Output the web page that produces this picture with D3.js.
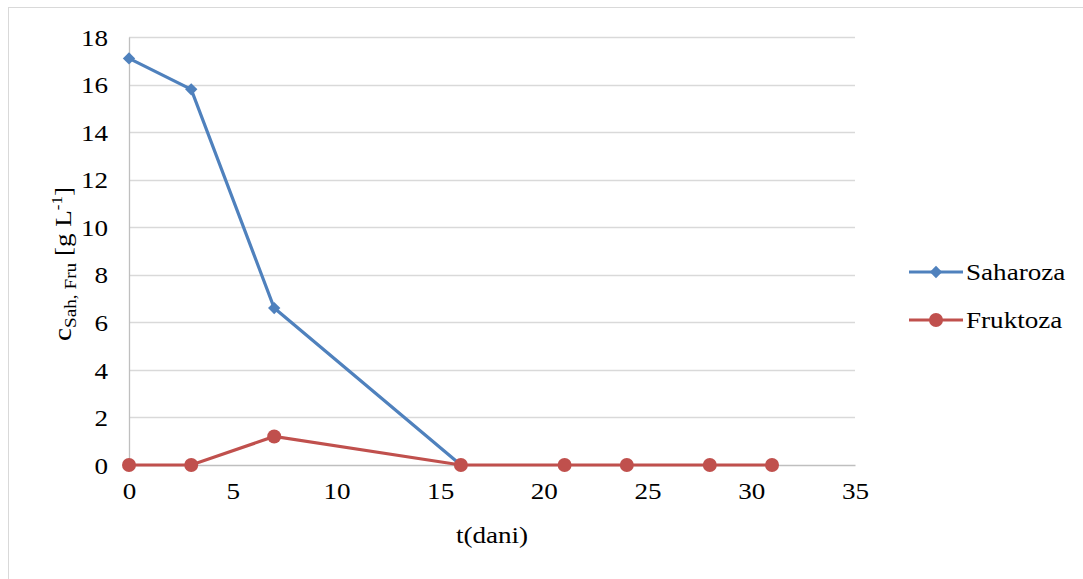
<!DOCTYPE html>
<html><head><meta charset="utf-8">
<script src="https://cdn.jsdelivr.net/npm/d3@7"></script>
<style>body{margin:0;background:#fff}svg{display:block}text{font-family:"Liberation Serif","Times New Roman",serif;fill:#000}</style>
</head><body><svg id="c" width="1083" height="579"></svg>
<script>
const saharozaT = [0, 3, 7, 16];
const saharozaC = [17.1, 15.8, 6.6, 0];
const fruktozaT = [0, 3, 7, 16, 21, 24, 28, 31];
const fruktozaC = [0, 0, 1.2, 0, 0, 0, 0, 0];
const xTicks = [0, 5, 10, 15, 20, 25, 30, 35];
const yTicks = [0, 2, 4, 6, 8, 10, 12, 14, 16, 18];
const seriesNames = ["Saharoza", "Fruktoza"];
const colors = ["#4F81BD", "#C0504D"];

const FS = 24, SX = 1.13;
const FONT = '"Liberation Serif","Times New Roman",serif';

const svg = d3.select("#c");
svg.append("rect").attr("x", 8.5).attr("y", 7.5).attr("width", 1090).attr("height", 600)
  .attr("fill", "none").attr("stroke", "#d9d9d9");

const x = d3.scaleLinear().domain([0, 35]).range([129, 855]);
const y = d3.scaleLinear().domain([0, 18]).range([465, 37]);

// gridlines
svg.append("g").selectAll("line").data(yTicks.filter(d => d > 0)).join("line")
  .attr("x1", x(0)).attr("x2", x(35)).attr("y1", d => Math.round(y(d)) + 0.5).attr("y2", d => Math.round(y(d)) + 0.5)
  .attr("stroke", "#d9d9d9").attr("stroke-width", 1.3);

// axes
const yAxis = svg.append("g").attr("transform", `translate(${x(0)},0)`)
  .call(d3.axisLeft(y).tickValues(yTicks).tickSize(0).tickPadding(21))
  .attr("font-family", FONT).attr("font-size", FS);
yAxis.select(".domain").attr("stroke", "#bfbfbf").attr("stroke-width", 1.3);
yAxis.selectAll(".tick text").attr("x", 0).attr("dy", "0.34em")
  .attr("transform", `translate(-21,0) scale(${SX},1)`);

const xAxis = svg.append("g").attr("transform", `translate(0,${y(0)})`)
  .call(d3.axisBottom(x).tickValues(xTicks).tickSize(0).tickPadding(0))
  .attr("font-family", FONT).attr("font-size", FS);
xAxis.select(".domain").attr("stroke", "#bfbfbf").attr("stroke-width", 1.3);
xAxis.selectAll(".tick text").attr("y", 0).attr("dy", 0)
  .attr("transform", `translate(0,34) scale(${SX},1)`);

function stext(px, py, str, anchor) {
  return svg.append("text").attr("transform", `translate(${px},${py}) scale(${SX},1)`)
    .attr("text-anchor", anchor || "start").style("font-size", FS + "px").text(str);
}

// axis titles
stext(492, 543, "t(dani)", "middle");
const yt = svg.append("text").attr("transform", `translate(71,264) rotate(-90) scale(${SX},1)`)
  .attr("text-anchor", "middle").style("font-size", "26px");
yt.append("tspan").text("c");
yt.append("tspan").attr("dy", 5).style("font-size", "17px").text("Sah, Fru");
yt.append("tspan").attr("dy", -5).style("font-size", FS + "px").text(" [g L");
yt.append("tspan").attr("dy", -9).style("font-size", "15px").text("-1");
yt.append("tspan").attr("dy", 9).style("font-size", FS + "px").text("]");

const line = d3.line().x(d => x(d[0])).y(d => y(d[1]));
const sah = saharozaT.map((t, i) => [t, saharozaC[i]]);
const fru = fruktozaT.map((t, i) => [t, fruktozaC[i]]);

const diamond = d3.symbol().type(d3.symbolSquare).size(76);

svg.append("path").datum(sah).attr("d", line).attr("fill", "none").attr("stroke", colors[0]).attr("stroke-width", 3.2);
svg.append("g").selectAll("path").data(sah).join("path")
  .attr("transform", d => `translate(${x(d[0])},${y(d[1])}) rotate(45)`).attr("d", diamond).attr("fill", colors[0]);

svg.append("path").datum(fru).attr("d", line).attr("fill", "none").attr("stroke", colors[1]).attr("stroke-width", 3.2);
svg.append("g").selectAll("circle").data(fru).join("circle")
  .attr("cx", d => x(d[0])).attr("cy", d => y(d[1])).attr("r", 7).attr("fill", colors[1]);

// legend
[272, 320].forEach((ly, i) => {
  svg.append("line").attr("x1", 909).attr("x2", 963).attr("y1", ly).attr("y2", ly).attr("stroke", colors[i]).attr("stroke-width", 3.2);
  if (i === 0) svg.append("path").attr("transform", `translate(936,${ly}) rotate(45)`).attr("d", diamond).attr("fill", colors[0]);
  else svg.append("circle").attr("cx", 936).attr("cy", ly).attr("r", 7).attr("fill", colors[1]);
  stext(966, ly + 8, seriesNames[i]);
});
</script></body></html>
